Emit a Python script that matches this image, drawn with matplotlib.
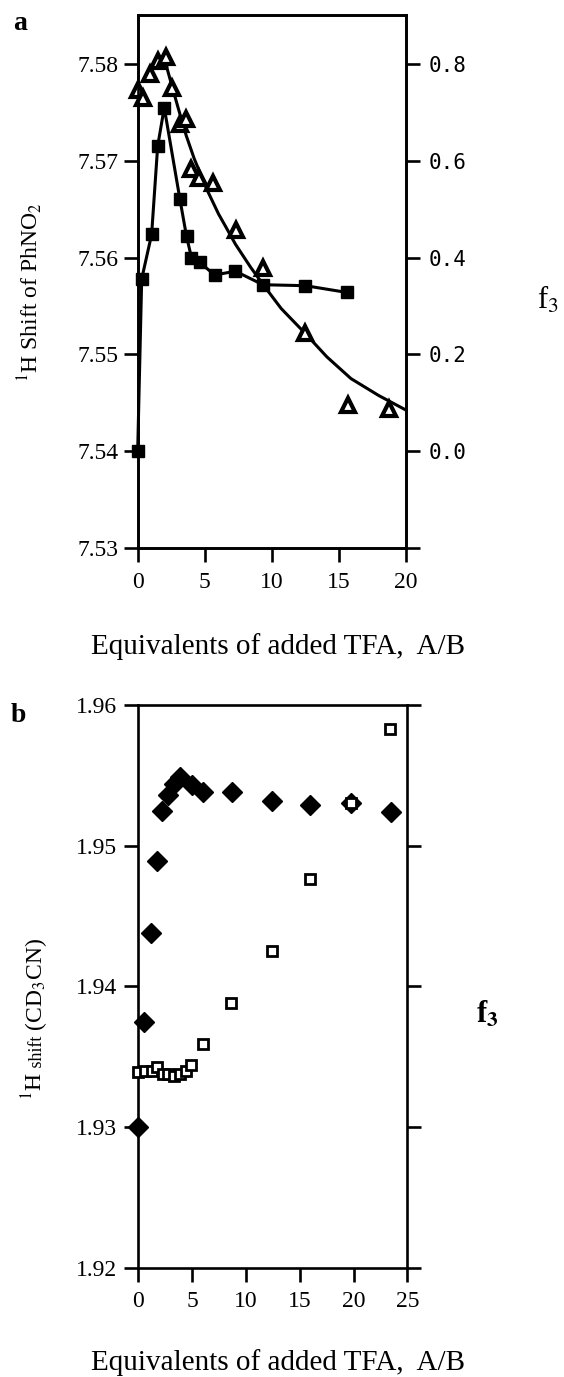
import matplotlib
matplotlib.use("Agg")
import matplotlib.pyplot as plt

plt.rcParams["font.family"] = ["Liberation Serif", "DejaVu Serif"]
plt.rcParams["mathtext.fontset"] = "stix"

# panel a: 1H shift of PhNO2 (filled squares) and f3 (open triangles)
a_sq_x = [0, 0.3, 1.04, 1.49, 1.98, 3.14, 3.64, 4.01, 4.63, 5.74, 7.28, 9.33, 12.5, 15.6]
a_sq_y = [7.540, 7.5578, 7.5624, 7.5715, 7.5755, 7.5661, 7.5622, 7.5600, 7.5595,
          7.5582, 7.5586, 7.5572, 7.5571, 7.5564]
a_tri_x = [0, 0.37, 0.91, 1.53, 2.08, 2.57, 3.14, 3.59, 4.01, 4.58, 5.62, 7.3,
           9.33, 12.5, 15.65, 18.75]
a_tri_f3 = [0.746, 0.73, 0.78, 0.806, 0.815, 0.75, 0.676, 0.686, 0.583, 0.564,
            0.555, 0.458, 0.379, 0.244, 0.096, 0.087]
# hand drawn guide curve through the triangles
a_fit_x = [2.08, 2.2, 2.6, 3.03, 3.62, 4.22, 5.17, 6.03, 6.6, 7.28, 8.42, 9.33,
           10.69, 12.5, 14.1, 15.9, 17.97, 20.0]
a_fit_f3 = [0.82, 0.79, 0.75, 0.708, 0.652, 0.604, 0.54, 0.49, 0.462, 0.428, 0.38,
            0.345, 0.295, 0.243, 0.195, 0.150, 0.115, 0.085]

# panel b: 1H shift of CD3CN
b_dia_x = [0, 0.53, 1.15, 1.71, 2.23, 2.79, 3.31, 3.87, 4.96, 6.04, 8.67, 12.39,
           16.0, 19.75, 23.46]
b_dia_y = [1.9300, 1.9375, 1.9438, 1.9489, 1.9525, 1.9536, 1.9544, 1.9549, 1.9543,
           1.9538, 1.9538, 1.9532, 1.9529, 1.9530, 1.9524]
b_sq_x = [0, 0.62, 1.24, 1.71, 2.32, 2.79, 3.31, 3.87, 4.4, 4.9, 5.98, 8.6, 12.39,
          16.0, 19.72, 23.43]
b_sq_y = [1.9339, 1.9340, 1.9340, 1.9343, 1.9338, 1.9338, 1.9336, 1.9338, 1.9340,
          1.9344, 1.9359, 1.9388, 1.9425, 1.9476, 1.9530, 1.9583]

a_xticks = [0, 5, 10, 15, 20]
a_yticks = [7.53, 7.54, 7.55, 7.56, 7.57, 7.58]
a_f3ticks = [-0.2, 0.0, 0.2, 0.4, 0.6, 0.8]
a_f3labels = ["", "0.0", "0.2", "0.4", "0.6", "0.8"]
b_xticks = [0, 5, 10, 15, 20, 25]
b_yticks = [1.92, 1.93, 1.94, 1.95, 1.96]

LW = 1.9
fig = plt.figure(figsize=(5.64, 13.77), dpi=100)


def style(ax):
    for s in ax.spines.values():
        s.set_linewidth(LW)
    ax.tick_params(direction="out", length=10, width=LW, labelsize=17)


# ---- panel a ----
ax1 = fig.add_axes([0.2441, 0.6020, 0.4758, 0.3871])
ax1.plot(a_sq_x, a_sq_y, color="black", lw=2.2, marker="s", ms=8,
         mfc="black", mec="black", clip_on=False, zorder=3)
ax1.set_xlim(0, 20)
ax1.set_ylim(7.53, 7.58506)
ax1.set_xticks(a_xticks)
ax1.set_yticks(a_yticks)
ax1.set_yticklabels(["%.2f" % v for v in a_yticks])
style(ax1)
ax1.tick_params(axis="y", pad=4)
ax1.tick_params(axis="x", pad=7)

ax1r = ax1.twinx()
ax1r.set_ylim((7.53 - 7.54) * 20, (7.58506 - 7.54) * 20)
ax1r.plot(a_fit_x, a_fit_f3, color="black", lw=2.2, clip_on=False)
ax1r.plot(a_tri_x, a_tri_f3, ls="none", marker="^", ms=10, mfc="white",
          mec="black", mew=3.0, clip_on=False)
ax1r.set_yticks(a_f3ticks)
ax1r.set_yticklabels(a_f3labels, family="DejaVu Sans Mono")
style(ax1r)
ax1r.tick_params(axis="y", pad=6, labelsize=15)

fig.text(20 / 564, 1 - 23 / 1377, "a", fontsize=20, fontweight="bold",
         ha="center", va="center")
fig.text(30 / 564, 1 - 292 / 1377, r"$^{1}$H Shift of PhNO$_2$", rotation=90,
         fontsize=17, ha="center", va="center")
fig.text(548 / 564, 1 - 300 / 1377, r"f$_3$", fontsize=22, ha="center", va="center")
fig.text(278 / 564, 1 - 647 / 1377, "Equivalents of added TFA,  A/B", fontsize=21,
         ha="center", va="center")

# ---- panel b ----
ax2 = fig.add_axes([0.2452, 0.0794, 0.4770, 0.4086])
ax2.plot(b_dia_x, b_dia_y, ls="none", marker="D", ms=10, mfc="black", mec="black",
         clip_on=False, zorder=3)
ax2.plot(b_sq_x, b_sq_y, ls="none", marker="s", ms=6.5, mfc="white", mec="black",
         mew=2.0, clip_on=False, zorder=4)
ax2.set_xlim(0, 25)
ax2.set_ylim(1.92, 1.96)
ax2.set_xticks(b_xticks)
ax2.set_yticks(b_yticks)
ax2.set_yticklabels(["%.2f" % v for v in b_yticks])
style(ax2)
ax2.tick_params(axis="y", pad=5, right=True)
ax2.tick_params(axis="x", pad=7)

fig.text(18 / 564, 1 - 715 / 1377, "b", fontsize=20, fontweight="bold",
         ha="center", va="center")
fig.text(487 / 564, 1 - 1015 / 1377, r"f$_\mathbf{3}$", fontsize=22,
         fontweight="bold", ha="center", va="center")
fig.text(278 / 564, 1 - 1363 / 1377, "Equivalents of added TFA,  A/B", fontsize=21,
         ha="center", va="center")

# y label of panel b, with a smaller "shift"
renderer = fig.canvas.get_renderer()
pieces = [(r"$^{1}$H", 17), (" shift", 13), (r" (CD$_3$CN)", 17)]
ypos = 1 - 1100 / 1377
for txt, size in pieces:
    t = fig.text(42 / 564, ypos, txt, rotation=90, fontsize=size, ha="left",
                 va="baseline", rotation_mode="anchor")
    bb = t.get_window_extent(renderer)
    ypos += bb.height / fig.bbox.height

fig.savefig("out.png", dpi=100)
